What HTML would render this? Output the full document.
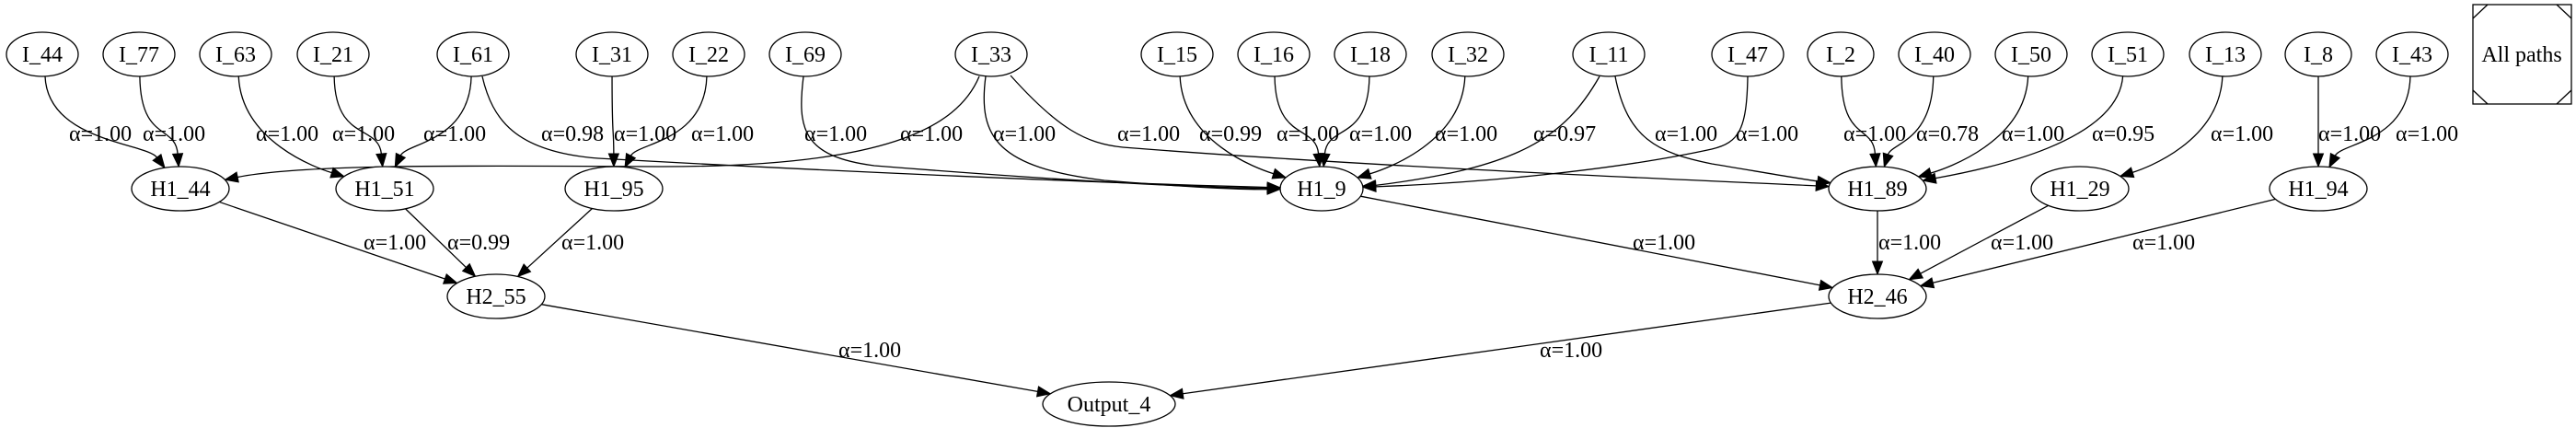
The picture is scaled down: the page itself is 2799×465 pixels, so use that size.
<!DOCTYPE html>
<html><head><meta charset="utf-8"><style>
html,body{margin:0;padding:0;background:#fff;}
svg{display:block;}
text{font-family:"Liberation Serif",serif;font-size:24px;fill:#000;}
</style></head><body>
<svg id="g" width="2799" height="465" viewBox="0 0 2799 465"></svg>
<script>
const nodeNames = ["I_44","I_77","I_63","I_21","I_61","I_31","I_22","I_69","I_33","I_15","I_16","I_18","I_32","I_11","I_47","I_2","I_40","I_50","I_51","I_13","I_8","I_43","H1_44","H1_51","H1_95","H1_9","H1_89","H1_29","H1_94","H2_55","H2_46","Output_4"];
const nodeX = [46,151,256,362,514,665,770,875,1077,1279,1384,1489,1595,1748,1899,2000,2102,2207,2312,2418,2519,2621,196,418,667,1436,2040,2260,2519,539,2040,1205];
const nodeLayer = [0,0,0,0,0,0,0,0,0,0,0,0,0,0,0,0,0,0,0,0,0,0,1,1,1,1,1,1,1,2,2,3];
const edgeFrom = ["I_44","I_77","I_63","I_21","I_61","I_61","I_31","I_22","I_69","I_33","I_33","I_33","I_15","I_16","I_18","I_32","I_11","I_11","I_47","I_2","I_40","I_50","I_51","I_13","I_8","I_43","H1_44","H1_51","H1_95","H1_9","H1_89","H1_29","H1_94","H2_55","H2_46"];
const edgeTo = ["H1_44","H1_44","H1_51","H1_51","H1_51","H1_9","H1_95","H1_95","H1_9","H1_44","H1_9","H1_89","H1_9","H1_9","H1_9","H1_9","H1_9","H1_89","H1_9","H1_89","H1_89","H1_89","H1_89","H1_29","H1_94","H1_94","H2_55","H2_55","H2_55","H2_46","H2_46","H2_46","H2_46","Output_4","Output_4"];
const edgeAlpha = [1.00,1.00,1.00,1.00,1.00,0.98,1.00,1.00,1.00,1.00,1.00,1.00,0.99,1.00,1.00,1.00,0.97,1.00,1.00,1.00,0.78,1.00,0.95,1.00,1.00,1.00,1.00,0.99,1.00,1.00,1.00,1.00,1.00,1.00,1.00];
const labelX = [75,155,278,361,460,588,667,751,874,978,1079,1214,1303,1387,1466,1559,1666,1798,1886,2003,2082,2175,2273,2402,2519,2603,395,486,610,1774,2041,2163,2317,911,1673];

const layerY = [59,205,322,439];
const NS = "http://www.w3.org/2000/svg";
const svg = document.getElementById('g');
function mk(tag, attrs){const e=document.createElementNS(NS,tag);for(const k in attrs)e.setAttribute(k,attrs[k]);return e;}
function rxOf(n){ if(n.startsWith("Output")) return 72; if(n==="H1_9") return 45; if(n.startsWith("H")) return 53; return n.length<=3?36:39; }
const pos = {};
nodeNames.forEach((n,i)=>{pos[n]={x:nodeX[i],y:layerY[nodeLayer[i]],rx:rxOf(n),ry:24};});

function ellPt(c, px, py){ const dx=px-c.x, dy=py-c.y; const t=1/Math.sqrt(dx*dx/(c.rx*c.rx)+dy*dy/(c.ry*c.ry)); return {x:c.x+dx*t,y:c.y+dy*t}; }

// routing overrides (layout geometry, not data): start point + control points; last two are final curve controls
const routes = {
  5:  [[524,83],[535,130],[560,165],[650,172],[900,186],[1200,199]],
  8:  [[873,83],[866,140],[872,170],[950,180],[1150,196],[1300,204]],
  9:  [[1064,83],[1040,140],[960,181],[720,181],[500,180],[330,178]],
  10: [[1071,83],[1062,150],[1085,182],[1200,196],[1300,204],[1350,206]],
  11: [[1098,82],[1150,140],[1180,156],[1220,160],[1500,182],[1850,196]],
  16: [[1738,83],[1700,150],[1650,182],[1485,202]],
  17: [[1755,83],[1768,150],[1800,166],[1860,178],[1920,188],[1960,195]],
  18: [[1899,83],[1898,140],[1890,155],[1860,162],[1750,186],[1600,199]]
};

const edgeLayer = mk('g',{});


svg.appendChild(edgeLayer);

edgeFrom.forEach((f,i)=>{
  const s=pos[f], t=pos[edgeTo[i]];
  const g=mk('g',{});
  
  
  const dx=t.x-s.x;
  const lay=nodeLayer[nodeNames.indexOf(f)];
  let d, c2, e;
  if(lay===0){
    let pts;
    if(routes[i]){
      const r=routes[i];
      c2={x:r[r.length-1][0],y:r[r.length-1][1]};
      e=ellPt(t,c2.x,c2.y);
      const ux=e.x-c2.x, uy=e.y-c2.y, L=Math.hypot(ux,uy);
      const ex=e.x-ux/L*14, ey=e.y-uy/L*14;
      if(r.length===4) d=`M${r[0]} C${r[1]} ${r[2]} ${ex},${ey}`;
      else d=`M${r[0]} C${r[1]} ${r[2]} ${r[3]} C${r[4]} ${r[5]} ${ex},${ey}`;
    } else {
      const st=ellPt(s,s.x+dx*0.05,s.y+60);
      const c1={x:st.x+dx*0.02,y:s.y+95};
      if(Math.abs(dx)>150){ c2={x:t.x-dx*0.45,y:t.y-22}; }
      else if(Math.abs(dx)>60){ c2={x:t.x-dx*0.25,y:t.y-50}; }
      else { c2={x:t.x-dx*0.12,y:t.y-70}; }
      e=ellPt(t,c2.x,c2.y);
      const ux=e.x-c2.x, uy=e.y-c2.y, L=Math.hypot(ux,uy);
      const ex=e.x-ux/L*14, ey=e.y-uy/L*14;
      d=`M${st.x},${st.y} C${c1.x},${c1.y} ${c2.x},${c2.y} ${ex},${ey}`;
    }
  } else {
    c2={x:s.x,y:s.y};
    e=ellPt(t,s.x,s.y);
    const st=ellPt(s,t.x,t.y);
    const ux=e.x-st.x, uy=e.y-st.y, L=Math.hypot(ux,uy);
    d=`M${st.x},${st.y} L${e.x-ux/L*14},${e.y-uy/L*14}`;
  }
  g.appendChild(mk('path',{d:d,fill:'none',stroke:'#000','stroke-width':1.3}));
  const ux=e.x-c2.x, uy=e.y-c2.y, L=Math.hypot(ux,uy), nx=ux/L, ny=uy/L;
  const bx=e.x-nx*14, by=e.y-ny*14;
  g.appendChild(mk('polygon',{points:`${e.x},${e.y} ${bx-ny*5.5},${by+nx*5.5} ${bx+ny*5.5},${by-nx*5.5}`,fill:'#000',stroke:'#000'}));
  const ly = lay===0?153:(lay===1?271:388);
  const tx=mk('text',{x:labelX[i],y:ly});
  tx.textContent='α='+edgeAlpha[i].toFixed(2);
  
  
  g.appendChild(tx);
  edgeLayer.appendChild(g);
});

nodeNames.forEach(n=>{
  const p=pos[n];
  const g=mk('g',{});
  
  
  g.appendChild(mk('ellipse',{cx:p.x,cy:p.y,rx:p.rx,ry:p.ry,fill:'#fff',stroke:'#000','stroke-width':1.3}));
  const t=mk('text',{x:p.x,y:p.y+8,'text-anchor':'middle'});
  t.textContent=n;
  g.appendChild(t);
  svg.appendChild(g);
});

const box=mk('g',{});


box.appendChild(mk('rect',{x:2687,y:5,width:107,height:108,fill:'#fff',stroke:'#000','stroke-width':1.3}));
box.appendChild(mk('path',{d:'M2687,20 L2703,5 M2778,5 L2794,20 M2687,98 L2703,113 M2778,113 L2794,98',stroke:'#000','stroke-width':1.3,fill:'none'}));
const bt=mk('text',{x:2740,y:67,'text-anchor':'middle'});
bt.textContent='All paths';
box.appendChild(bt);
svg.appendChild(box);
</script>
</body></html>
